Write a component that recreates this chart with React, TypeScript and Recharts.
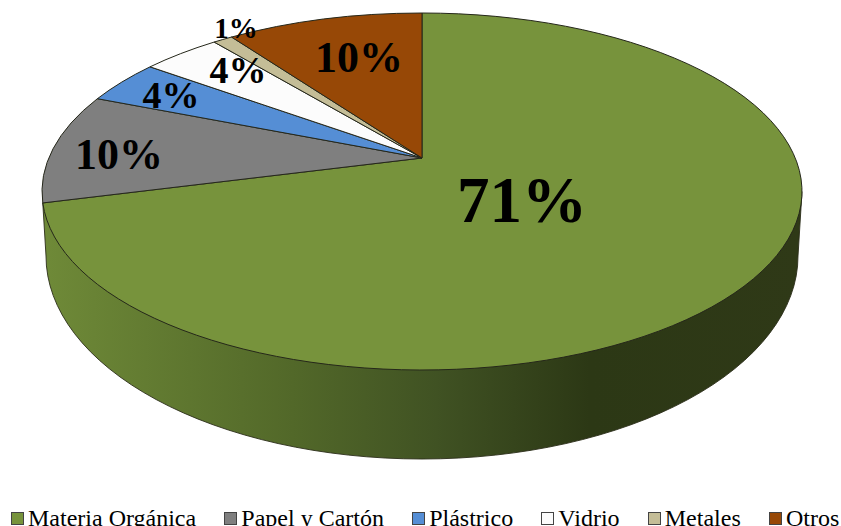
import React from 'react';
import { PieChart, Pie, Cell, Legend } from 'recharts';

const categories = ['Materia Orgánica', 'Papel y Cartón', 'Plástrico', 'Vidrio', 'Metales', 'Otros'];
const shares = [71, 10, 4, 4, 1, 10];
const colors = ['#77933C', '#7F7F7F', '#558ED5', '#FCFCFC', '#C4BD97', '#974806'];

const data = categories.map((name, i) => ({ name, value: shares[i] }));

// Tilted disc geometry: the pie's apex sits off the centre of the rim ellipse (perspective)
const W = 841, H = 526;
const APEX = { x: 422, y: 158 };
const TOP = { cx: 422, cy: 191.5, rx: 380, ry: 178.5 };
const BOTTOM = { cx: 422, cy: 256, rx: 376, ry: 203 };
const TILT = (TOP.cy - APEX.y) / TOP.ry;

const labelStyle = [
  { x: 522, y: 200, size: 65 },
  { x: 119, y: 154, size: 44 },
  { x: 171, y: 95, size: 38 },
  { x: 238, y: 70, size: 38 },
  { x: 236, y: 28, size: 29 },
  { x: 359, y: 57, size: 44 },
];

// project an angle on the true circle (clockwise from top) to the rim ellipse
function rim(thetaDeg: number) {
  const t = (thetaDeg * Math.PI) / 180;
  const u = Math.sin(t), v = Math.cos(t);
  const d = 1 + TILT * v;
  const X = (u * Math.sqrt(1 - TILT * TILT)) / d;
  const Y = (v + TILT) / d;
  return { x: TOP.cx + TOP.rx * X, y: TOP.cy - TOP.ry * Y, phi: (Math.atan2(X, Y) * 180) / Math.PI };
}

function TopSector(props: any) {
  const { startAngle, endAngle, fill } = props;
  const a = rim(90 - startAngle);
  const b = rim(90 - endAngle);
  const span = ((b.phi - a.phi) % 360 + 360) % 360;
  const large = span > 180 ? 1 : 0;
  const d = `M${APEX.x},${APEX.y} L${a.x},${a.y} A${TOP.rx},${TOP.ry} 0 ${large} 1 ${b.x},${b.y} Z`;
  return <path d={d} fill={fill} stroke="#25271a" strokeWidth={1} strokeLinejoin="round" />;
}

function WallSector(props: any) {
  const { endAngle, index } = props;
  if (index !== 0) return <g />;
  const e = rim(90 - endAngle);
  const lowY = BOTTOM.cy;
  const d =
    `M${TOP.cx + TOP.rx},${TOP.cy} L${BOTTOM.cx + BOTTOM.rx},${lowY} ` +
    `A${BOTTOM.rx},${BOTTOM.ry} 0 0 1 ${BOTTOM.cx - BOTTOM.rx},${lowY} ` +
    `L${e.x},${e.y} Z`;
  return (
    <g>
      <defs>
        <linearGradient id="wallGrad" gradientUnits="userSpaceOnUse" x1={42} y1={0} x2={802} y2={0}>
          <stop offset="0%" stopColor="#6F8A38" />
          <stop offset="33%" stopColor="#526829" />
          <stop offset="52%" stopColor="#405223" />
          <stop offset="72%" stopColor="#2C3815" />
          <stop offset="100%" stopColor="#2F3917" />
        </linearGradient>
      </defs>
      <path d={d} fill="url(#wallGrad)" stroke="#2b2e1a" strokeWidth={0.9} strokeLinejoin="round" />
    </g>
  );
}

function PercentLabel(props: any) {
  const { index, value } = props;
  const s = labelStyle[index];
  return (
    <text
      x={s.x}
      y={s.y}
      textAnchor="middle"
      dominantBaseline="central"
      fontFamily="'Liberation Serif', serif"
      fontWeight="bold"
      fontSize={s.size}
      fill="#000"
    >
      {value}%
    </text>
  );
}

function LegendContent() {
  return (
    <div
      style={{
        display: 'flex',
        alignItems: 'center',
        paddingLeft: 11,
        fontFamily: "'Liberation Serif', serif",
        fontSize: 24,
        lineHeight: '26px',
        color: '#000',
        whiteSpace: 'nowrap',
      }}
    >
      {categories.map((c, i) => (
        <span key={c} style={{ display: 'inline-flex', alignItems: 'center', marginRight: i < categories.length - 1 ? 28.2 : 0 }}>
          <span
            style={{
              display: 'inline-block',
              boxSizing: 'border-box',
              width: 13,
              height: 13,
              marginRight: 4,
              background: colors[i],
              border: '1px solid #444',
            }}
          />
          {c}
        </span>
      ))}
    </div>
  );
}

export default function App() {
  return (
    <div style={{ position: 'absolute', left: 0, top: 0, width: W, height: H, overflow: 'hidden', background: '#fff' }}>
      <PieChart width={W} height={H} margin={{ top: 0, right: 0, bottom: 0, left: 0 }}>
        <Pie
          data={data}
          dataKey="value"
          nameKey="name"
          cx={APEX.x}
          cy={APEX.y}
          outerRadius={150}
          startAngle={90}
          endAngle={-270}
          paddingAngle={0}
          stroke="none"
          legendType="none"
          isAnimationActive={false}
          shape={WallSector}
        />
        <Pie
          data={data}
          dataKey="value"
          nameKey="name"
          cx={APEX.x}
          cy={APEX.y}
          outerRadius={150}
          startAngle={90}
          endAngle={-270}
          paddingAngle={0}
          isAnimationActive={false}
          shape={TopSector}
          label={PercentLabel}
          labelLine={false}
        >
          {data.map((d, i) => (
            <Cell key={d.name} fill={colors[i]} />
          ))}
        </Pie>
        <Legend
          content={LegendContent}
          verticalAlign="bottom"
          wrapperStyle={{ left: 0, bottom: -5, width: W, height: 26 }}
        />
      </PieChart>
    </div>
  );
}
